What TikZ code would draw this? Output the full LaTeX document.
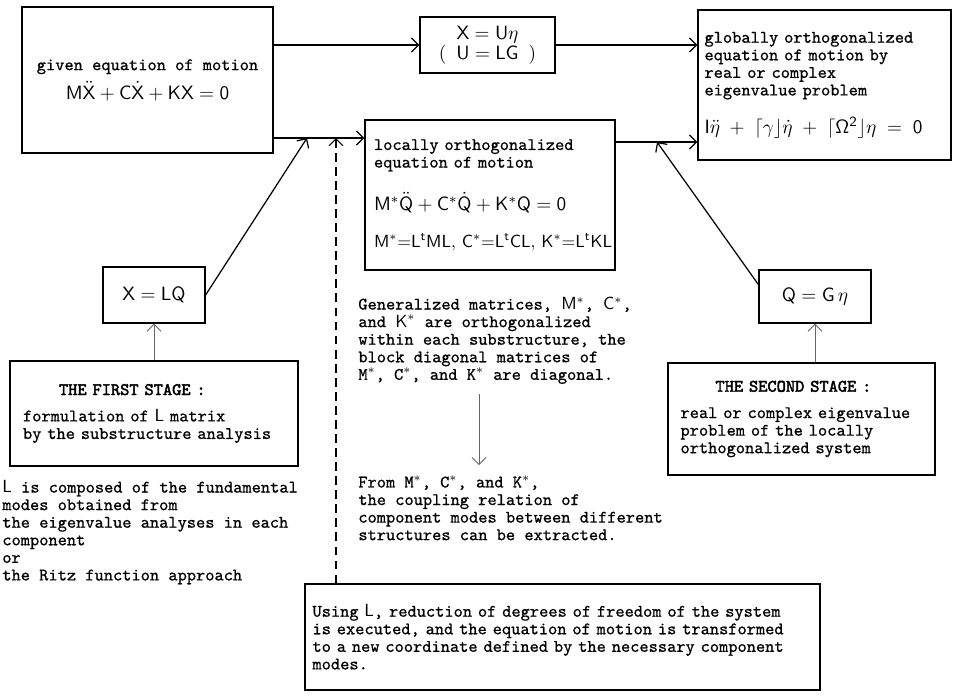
\documentclass[tikz,border=0pt]{standalone}
\usepackage[no-math]{fontspec}
\usepackage{amsmath}
\usetikzlibrary{calc,arrows.meta}
\newfontfamily\twfont[FakeBold=0.8]{Latin Modern Mono}
\newfontfamily\headfont[FakeBold=2.5]{Latin Modern Mono}
\newlength\pxl
\setlength\pxl{0.02cm}
\newcommand\eqn[1]{{\fontsize{11}{12}\selectfont$\mathsf{#1}$}}
\newcommand\eqs[1]{{\fontsize{10}{11}\selectfont$\mathsf{#1}$}}
\tikzset{
	box/.style={draw, line width=0.7pt, inner sep=0pt, font=\twfont\fontsize{10}{10}\selectfont},
	txt/.style={inner sep=0pt, align=left, anchor=north west, font=\twfont\fontsize{10}{10}\selectfont},
	link/.style={line width=0.7pt, -{Straight Barb[length=4pt, width=8pt]}},
	hint/.style={line width=0.5pt, -{Straight Barb[length=4pt, width=8pt]}, black!60}
}

\begin{document}
\begin{tikzpicture}[x=0.02cm, y=-0.02cm]
		%%%%% START %%%%%
		\useasboundingbox (0, 0) rectangle (953, 697);
		
		\node[box, minimum width=251\pxl, minimum height=146\pxl, align=center] (given) at (147.5, 80) {given equation of motion\\[3pt] \eqn{M\ddot{X} + C\dot{X} + KX = 0}};
		\node[box, minimum width=135\pxl, minimum height=56\pxl, align=center] (un) at (487.5, 45) {\eqn{X = U\eta}\\ \eqn{(\ U = LG\ )}};
		\node[box, minimum width=253\pxl, minimum height=150\pxl, text width=240\pxl, align=left] (glob) at (824.5, 85) {globally orthogonalized\\ equation of motion by\\ real or complex\\ eigenvalue problem\\[9pt] \eqn{I\ddot\eta \;+\; \lceil\gamma\rfloor\dot\eta \;+\; \lceil\Omega^2\rfloor\eta \;=\; 0}};
		\node[box, minimum width=250\pxl, minimum height=150\pxl, text width=232\pxl, align=left] (loc) at (490, 195) {locally orthogonalized\\ equation of motion\\[11pt] \eqn{M^*\ddot Q + C^*\dot Q + K^*Q = 0}\\[11pt] \eqs{M^*{=}L^tML,\,C^*{=}L^tCL,\,K^*{=}L^tKL}};
		
		\node[box, minimum width=102\pxl, minimum height=56\pxl] (xlq) at (154, 295) {\eqn{X = LQ}};
		\node[box, minimum width=112\pxl, minimum height=53\pxl] (qgn) at (815, 296.5) {\eqn{Q = G\,\eta}};
		
		\node[box, minimum width=288\pxl, minimum height=105\pxl, text width=262\pxl, align=left] (first) at (154, 413.5) {\hspace*{36\pxl}{\headfont THE FIRST STAGE :}\\[5pt] formulation of \textsf{L} matrix\\ by the substructure analysis};
		\node[box, minimum width=267\pxl, minimum height=112\pxl, text width=242\pxl, align=left] (second) at (801.5, 419) {\hspace*{35\pxl}{\headfont THE SECOND STAGE :}\\[5pt] real or complex eigenvalue\\ problem of the locally\\ orthogonalized system};
		
		\node[txt] (lcomp) at (2, 480) {\textsf{L} is composed of the fundamental\\ modes obtained from\\ the eigenvalue analyses in each\\ component\\ or\\ the Ritz function approach};
		\node[txt] (gen) at (358, 297) {Generalized matrices, $\mathsf{M^*}$, $\mathsf{C^*}$,\\ and $\mathsf{K^*}$ are orthogonalized\\ within each substructure, the\\ block diagonal matrices of\\ M$^*$, C$^*$, and K$^*$ are diagonal.};
		\node[txt] (from) at (358, 475) {From M$^*$, C$^*$, and K$^*$,\\ the coupling relation of\\ component modes between different\\ structures can be extracted.};
		
		\node[box, minimum width=515\pxl, minimum height=106\pxl, text width=500\pxl, align=left] (use) at (562.5, 637) {Using \textsf{L}, reduction of degrees of freedom of the system\\ is executed, and the equation of motion is transformed\\ to a new coordinate defined by the necessary component\\ modes.};
		
		% junctions on the two lower feed lines
		\coordinate (j1) at (307, 138);
		\coordinate (j2) at (336, 138);
		\coordinate (j3) at (657, 142);
		\coordinate (dn) at (479, 0);
		
		\draw[link] (un.west -| given.east) -- (un.west);
		\draw[link] (un.east) -- (un.east -| glob.west);
		\draw[link] (given.east |- j1) -- (loc.west |- j1);
		\draw[link] (loc.east |- j3) -- (glob.west |- j3);
		
		\draw[link] (xlq.east) -- (j1);
		\draw[link] ($(qgn.north west)!0.28!(qgn.south west)$) -- (j3);
		\draw[link, dash pattern=on 5pt off 3pt] (use.north -| j2) -- (j2);
		
		\draw[hint] (first.north -| xlq.south) -- (xlq.south);
		\draw[hint] (second.north -| qgn.south) -- (qgn.south);
		\draw[hint, shorten <=10\pxl, shorten >=10\pxl] (gen.south -| dn) -- (from.north -| dn);
		
		%%%%% END %%%%%
\end{tikzpicture}
\end{document}
